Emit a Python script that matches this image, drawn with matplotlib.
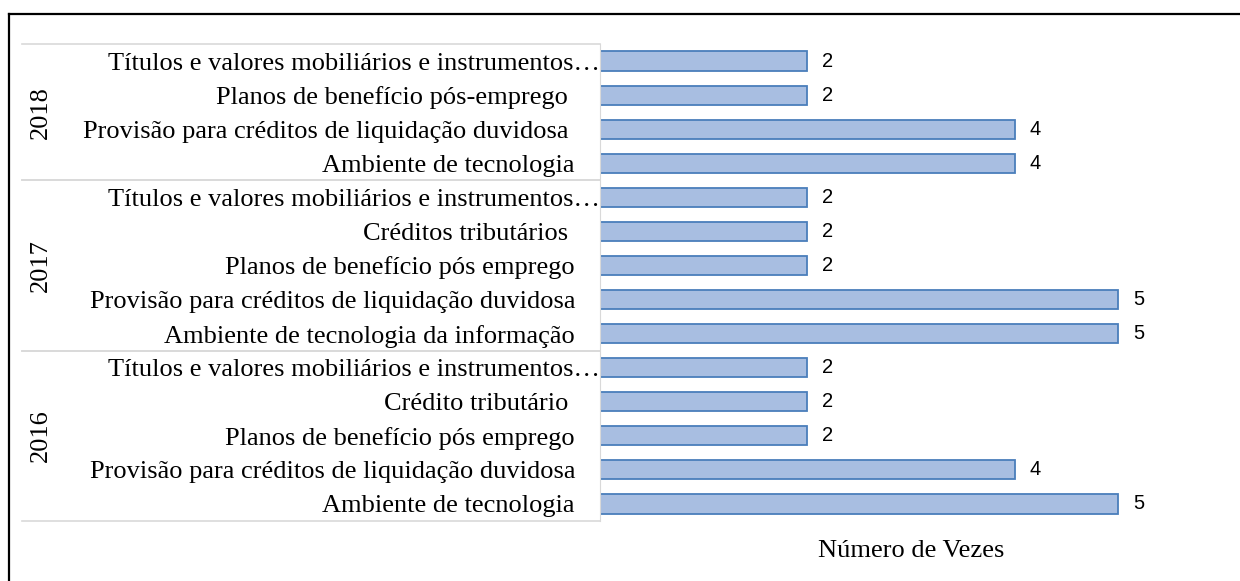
import matplotlib
matplotlib.use("Agg")
import matplotlib.pyplot as plt
from matplotlib.lines import Line2D

# dados (de baixo para cima)
anos = ["2016", "2017", "2018"]
categorias = [
    ["Ambiente de tecnologia",
     "Provisão para créditos de liquidação duvidosa",
     "Planos de benefício pós emprego",
     "Crédito tributário ",
     "Títulos e valores mobiliários e instrumentos…"],
    ["Ambiente de tecnologia da informação",
     "Provisão para créditos de liquidação duvidosa",
     "Planos de benefício pós emprego",
     "Créditos tributários ",
     "Títulos e valores mobiliários e instrumentos…"],
    ["Ambiente de tecnologia",
     "Provisão para créditos de liquidação duvidosa ",
     "Planos de benefício pós-emprego ",
     "Títulos e valores mobiliários e instrumentos…"],
]
valores = [
    [5, 4, 2, 2, 2],
    [5, 5, 2, 2, 2],
    [4, 4, 2, 2],
]

W, H = 1240, 581
fig = plt.figure(figsize=(W / 100, H / 100), dpi=100)

x0, x1 = 600, 1222
y_top, y_bot = 44, 521
ax = fig.add_axes([x0 / W, (H - y_bot) / H, (x1 - x0) / W, (y_bot - y_top) / H])

labels = [c for grupo in categorias for c in grupo]
vals = [v for grupo in valores for v in grupo]
ypos = list(range(len(vals)))

FS = 19
serif = "Liberation Serif"

ax.barh(ypos, vals, height=0.56, color="#a8bee1", edgecolor="#4a7ebb", linewidth=1.3)
for y, v in zip(ypos, vals):
    ax.text(v + 0.14, y, str(v), va="center", ha="left", fontsize=14.5,
            family="Liberation Sans")

ax.set_xlim(0, 6)
ax.set_ylim(-0.5, len(vals) - 0.5)
ax.set_yticks(ypos)
# rótulos truncados ("…") encostam no eixo; os demais têm recuo
ax.set_yticklabels(["" if l.endswith("…") else l for l in labels],
                   family=serif, fontsize=FS)
ax.tick_params(axis="y", length=0, pad=18)
for y, l in zip(ypos, labels):
    if l.endswith("…"):
        ax.annotate(l, xy=(0, y), xytext=(0, 0), textcoords="offset points",
                    ha="right", va="center_baseline", family=serif, fontsize=FS,
                    annotation_clip=False)
ax.set_xticks([])
for s in ["top", "right", "bottom"]:
    ax.spines[s].set_visible(False)
ax.spines["left"].set_color("#d9d9d9")
ax.set_xlabel("Número de Vezes", family=serif, fontsize=FS, labelpad=14)

# separadores dos grupos e rótulos dos anos
def fy(py):
    return (H - py) / H

row_h = (y_bot - y_top) / len(vals)
inicio = 0
for ano, grupo in zip(anos, valores):
    fim = inicio + len(grupo)
    yb = y_bot - inicio * row_h
    yt = y_bot - fim * row_h
    fig.add_artist(Line2D([22 / W, x0 / W], [fy(yb), fy(yb)], color="#d9d9d9", lw=1.2))
    fig.add_artist(Line2D([22 / W, x0 / W], [fy(yt), fy(yt)], color="#d9d9d9", lw=1.2))
    fig.text(41 / W, fy((yb + yt) / 2), ano, rotation=90, ha="center", va="center",
             family=serif, fontsize=FS)
    inicio = fim

# moldura
fig.add_artist(Line2D([9 / W, 1], [fy(14), fy(14)], color="black", lw=1.6))
fig.add_artist(Line2D([9 / W, 9 / W], [fy(14), 0], color="black", lw=1.6))

fig.savefig("out.png", dpi=100)
